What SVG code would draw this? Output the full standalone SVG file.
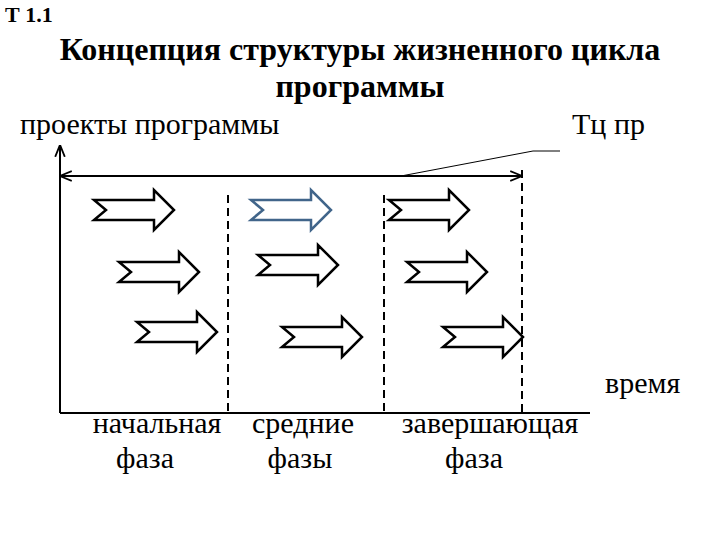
<svg xmlns="http://www.w3.org/2000/svg" width="720" height="540" viewBox="0 0 720 540">
<defs>
<style>
text{font-family:"Liberation Serif",serif;fill:#000}
.t{font-size:30px}
.ar{fill:#fff;stroke:#000;stroke-width:2.5;stroke-linejoin:miter}
.dash{stroke:#000;stroke-width:2;stroke-dasharray:8,5;fill:none}
.ln{stroke:#000;stroke-width:2;fill:none}
</style>
<path id="a" d="M0,-10 L60,-10 L60,-20 L80,0 L60,20 L60,10 L0,10 L12,0 Z"/>
<marker id="m" viewBox="0 0 10 10" refX="9" refY="5" markerWidth="6" markerHeight="6" orient="auto-start-reverse"><path d="M0,1 L10,5 L0,9" fill="none" stroke="#000" stroke-width="1.5"/></marker>
</defs>
<rect width="720" height="540" fill="#fff"/>
<text x="5" y="22" style="font-size:22px;font-weight:bold">Т 1.1</text>
<text x="360" y="60" text-anchor="middle" style="font-size:32px;font-weight:bold">Концепция структуры жизненного цикла</text>
<text x="360" y="97" text-anchor="middle" style="font-size:32px;font-weight:bold">программы</text>
<text x="20" y="134" class="t">проекты программы</text>
<text x="572" y="134" class="t">Тц пр</text>
<text x="605" y="393" class="t">время</text>
<g id="connectors">
<line x1="60" y1="413" x2="60" y2="146" class="ln" marker-end="url(#m)"/>
<line x1="60" y1="413" x2="590" y2="413" class="ln"/>
<line x1="61" y1="176" x2="521" y2="176" class="ln" marker-start="url(#m)" marker-end="url(#m)"/>
<polyline points="401,176 533,151 560,151" fill="none" stroke="#000" stroke-width="1"/>
<line x1="228" y1="195" x2="228" y2="413" class="dash"/>
<line x1="384" y1="195" x2="384" y2="413" class="dash"/>
<line x1="522" y1="170" x2="522" y2="413" class="dash"/>
</g>
<g id="arrows">
<use href="#a" class="ar" x="94" y="210"/>
<use href="#a" class="ar" x="119" y="272"/>
<use href="#a" class="ar" x="137" y="332"/>
<use href="#a" class="ar" x="251" y="210" style="stroke:#41658a"/>
<use href="#a" class="ar" x="258" y="265"/>
<use href="#a" class="ar" x="282" y="337"/>
<use href="#a" class="ar" x="389" y="210"/>
<use href="#a" class="ar" x="407" y="272"/>
<use href="#a" class="ar" x="443" y="337"/>
</g>
<g id="labels">
<text x="157" y="433" text-anchor="middle" class="t">начальная</text>
<text x="145" y="468" text-anchor="middle" class="t">фаза</text>
<text x="303" y="433" text-anchor="middle" class="t">средние</text>
<text x="300" y="468" text-anchor="middle" class="t">фазы</text>
<text x="490" y="433" text-anchor="middle" class="t">завершающая</text>
<text x="474" y="468" text-anchor="middle" class="t">фаза</text>
</g>
</svg>
